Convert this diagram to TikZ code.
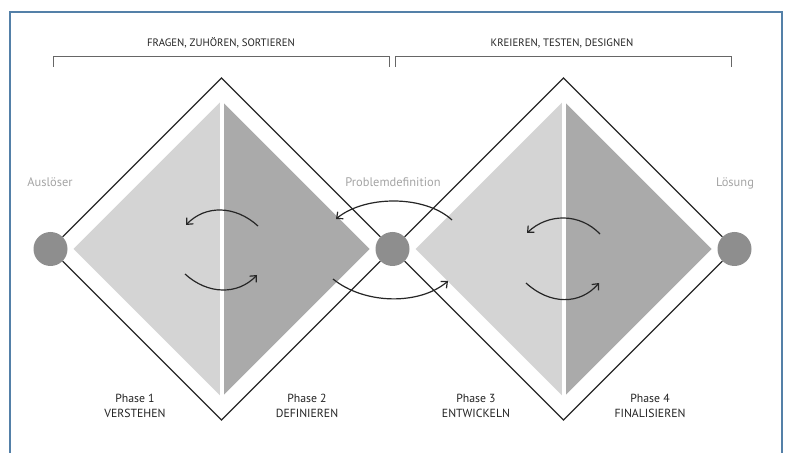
\documentclass[tikz,border=0pt]{standalone}
\usepackage{fontspec}
\setmainfont{PT Sans}
\usetikzlibrary{arrows.meta}
\definecolor{frameblue}{RGB}{84,128,168}
\definecolor{lightfill}{RGB}{212,212,212}
\definecolor{darkfill}{RGB}{170,170,170}
\definecolor{dotgray}{RGB}{142,142,142}
\definecolor{linegray}{RGB}{40,40,40}
\definecolor{labelgray}{RGB}{165,165,165}
\definecolor{textdark}{RGB}{35,35,35}
\tikzset{
  outline/.style={draw=linegray, line width=1.3bp},
  dot/.style={circle, fill=dotgray, minimum size=34bp, inner sep=0pt},
  bracketline/.style={draw=gray!80!black, line width=1bp},
  headtext/.style={text=textdark, font=\fontsize{10.8}{12}\selectfont},
  phasetext/.style={text=textdark, font=\fontsize{11.8}{15}\selectfont, align=center},
  greylabel/.style={text=labelgray, font=\fontsize{12.5}{14}\selectfont},
  cyc/.style={draw=black!85, line width=1.2bp, -{Straight Barb[length=5bp,width=9bp]}},
  gapline/.style={draw=white, line width=4bp}
}
\begin{document}
\begin{tikzpicture}[x=1bp,y=-1bp]
\useasboundingbox (0,0) rectangle (788,453);
\fill[white] (0,0) rectangle (788,453);
% frame
\draw[frameblue, line width=2bp] (9.5,470) -- (9.5,12.5) -- (782,12.5) -- (782,470);

% headers and brackets
\node[headtext] (h1) at (221,43) {FRAGEN, ZUHÖREN, SORTIEREN};
\node[headtext] (h2) at (562,43) {KREIEREN, TESTEN, DESIGNEN};
\draw[bracketline] (53,67) -- (53,57) -- (389,57) -- (389,67);
\draw[bracketline] (395,67) -- (395,57) -- (731,57) -- (731,67);

% inner filled diamonds
\fill[lightfill] (73.5,249) -- (221.5,101) -- (221.5,397) -- cycle;
\fill[darkfill] (369.5,249) -- (221.5,101) -- (221.5,397) -- cycle;
\draw[gapline] (221.5,98) -- (221.5,400);
\fill[lightfill] (415.5,249) -- (563.5,101) -- (563.5,397) -- cycle;
\fill[darkfill] (711.5,249) -- (563.5,101) -- (563.5,397) -- cycle;
\draw[gapline] (563.5,98) -- (563.5,400);

% circles
\node[dot] (c1) at (50.5,249) {};
\node[dot] (c2) at (392.5,249) {};
\node[dot] (c3) at (734.5,249) {};

% outer diamond outlines
\coordinate (t1) at (221.5,78);
\coordinate (b1) at (221.5,420);
\coordinate (t2) at (563.5,78);
\coordinate (b2) at (563.5,420);
\draw[outline] (c1.45) -- (t1) -- (c2.135);
\draw[outline] (c1.-45) -- (b1) -- (c2.-135);
\draw[outline] (c2.45) -- (t2) -- (c3.135);
\draw[outline] (c2.-45) -- (b2) -- (c3.-135);

% grey labels
\node[greylabel] (l1) at (50,182) {Auslöser};
\node[greylabel] (l2) at (393,182) {Problemdefinition};
\node[greylabel] (l3) at (735,183) {Lösung};

% phase labels
\node[phasetext] (p1) at (135,405.5) {Phase 1\\VERSTEHEN};
\node[phasetext] (p2) at (307,405.5) {Phase 2\\DEFINIEREN};
\node[phasetext] (p3) at (476,405.5) {Phase 3\\ENTWICKELN};
\node[phasetext] (p4) at (650,405.5) {Phase 4\\FINALISIEREN};

% cycle arrows
\coordinate (a1s) at (258,226); \coordinate (a1e) at (186,225);
\coordinate (a2s) at (185,274); \coordinate (a2e) at (257,275);
\coordinate (a3s) at (452,220); \coordinate (a3e) at (336,219);
\coordinate (a4s) at (333,279); \coordinate (a4e) at (448,281);
\coordinate (a5s) at (600,234); \coordinate (a5e) at (527,233);
\coordinate (a6s) at (526,283); \coordinate (a6e) at (599,283);
\draw[cyc] (a1s) .. controls (235,205) and (205,205) .. (a1e);
\draw[cyc] (a2s) .. controls (208,295) and (238,295) .. (a2e);
\draw[cyc] (a3s) .. controls (425,195) and (365,195) .. (a3e);
\draw[cyc] (a4s) .. controls (365,305) and (420,305) .. (a4e);
\draw[cyc] (a5s) .. controls (580,213) and (548,213) .. (a5e);
\draw[cyc] (a6s) .. controls (550,305) and (580,305) .. (a6e);
\end{tikzpicture}
\end{document}
